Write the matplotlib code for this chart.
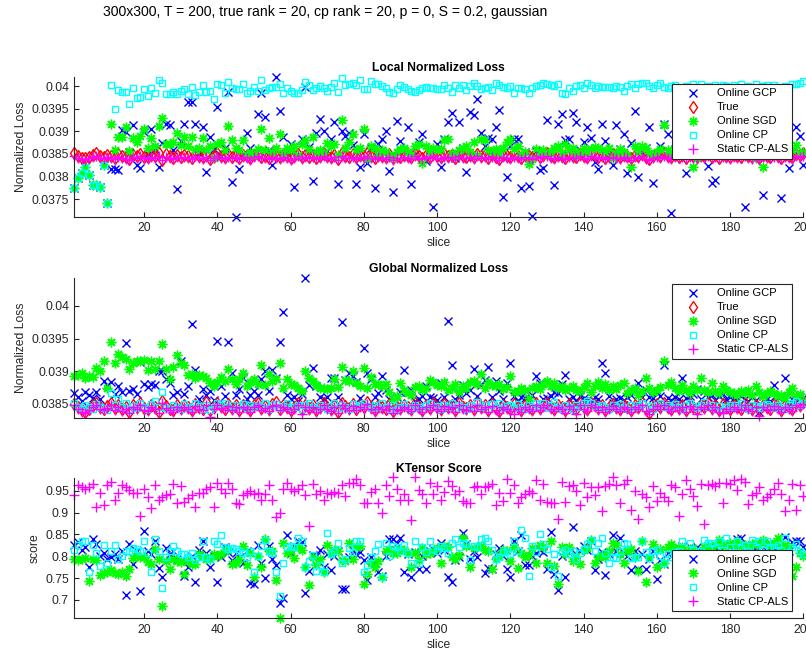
import numpy as np
import matplotlib
matplotlib.use('Agg')
import matplotlib.pyplot as plt

plt.rcParams['font.family'] = ['Liberation Sans', 'DejaVu Sans']

slices = np.arange(1, 201)

# loss values are stored in units of 1e-5, scores in units of 1e-3
gcp_local = [
    3774, 3796, 3807, 3820, 3803, 3781, 3781, 3777, 3825, 3742,
    3817, 3816, 3814, 3904, 3898, 3855, 3914, 3826, 3819, 3898,
    3850, 3906, 3860, 3822, 3875, 3917, 3913, 3858, 3773, 3879,
    3917, 3964, 3964, 3917, 3852, 3910, 3811, 3888, 3860, 3953,
    3845, 3862, 3987, 3788, 3711, 3816, 3850, 3897, 3864, 3848,
    3938, 3985, 3931, 3858, 3825, 4021, 3945, 3887, 3852, 3873,
    3776, 3846, 3883, 3999, 3866, 3789, 3897, 3928, 3900, 3856,
    3882, 3921, 3783, 3900, 3889, 3897, 3870, 3783, 3822, 3893,
    3830, 3862, 3775, 3873, 3884, 3901, 3813, 3765, 3923, 3879,
    3857, 3910, 3783, 3850, 3876, 3894, 3835, 3858, 3733, 3872,
    3820, 3882, 3920, 3940, 3840, 3920, 3864, 3811, 3943, 3937,
    3971, 3897, 3867, 3886, 3884, 3910, 3948, 3754, 3798, 3867,
    3884, 3884, 3774, 3855, 3779, 3713, 3857, 3814, 3818, 3925,
    3852, 3781, 3917, 3938, 3881, 3882, 3941, 3920, 3858, 3876,
    3910, 3885, 3833, 3816, 3916, 3878, 3850, 3826, 3913, 3860,
    3894, 3808, 3875, 3945, 3798, 3855, 3862, 3909, 3785, 3850,
    3868, 3916, 3895, 3719, 3860, 3845, 3880, 3808, 3900, 3852,
    3870, 3930, 3866, 3823, 3785, 3792, 3910, 3858, 3880, 3850,
    3905, 3870, 3848, 3733, 3890, 3862, 3920, 3855, 3760, 3880,
    3846, 3900, 3868, 3752, 3875, 3818, 3858, 3909, 3889, 3826]
true_local = [
    3852, 3845, 3842, 3840, 3844, 3847, 3852, 3846, 3843, 3848,
    3845, 3842, 3849, 3846, 3843, 3838, 3848, 3845, 3850, 3844,
    3843, 3848, 3846, 3851, 3836, 3849, 3845, 3842, 3847, 3844,
    3848, 3845, 3842, 3850, 3846, 3843, 3847, 3839, 3845, 3851,
    3846, 3843, 3849, 3844, 3847, 3842, 3848, 3845, 3841, 3847,
    3850, 3844, 3846, 3842, 3849, 3845, 3843, 3848, 3846, 3841,
    3845, 3850, 3843, 3847, 3844, 3848, 3842, 3846, 3850, 3845,
    3843, 3848, 3838, 3852, 3846, 3844, 3849, 3843, 3847, 3845,
    3852, 3846, 3842, 3848, 3845, 3843, 3849, 3840, 3846, 3844,
    3848, 3845, 3843, 3850, 3846, 3842, 3848, 3844, 3851, 3846,
    3843, 3849, 3845, 3847, 3842, 3852, 3846, 3844, 3848, 3843,
    3850, 3845, 3847, 3842, 3849, 3844, 3838, 3848, 3846, 3843,
    3849, 3845, 3842, 3848, 3846, 3843, 3850, 3844, 3847, 3852,
    3845, 3843, 3848, 3846, 3842, 3849, 3845, 3844, 3850, 3846,
    3843, 3851, 3847, 3844, 3848, 3842, 3846, 3849, 3845, 3843,
    3848, 3846, 3841, 3847, 3845, 3850, 3843, 3838, 3846, 3849,
    3845, 3852, 3846, 3843, 3848, 3844, 3847, 3842, 3849, 3845,
    3843, 3848, 3846, 3850, 3844, 3847, 3842, 3849, 3845, 3843,
    3848, 3846, 3844, 3850, 3845, 3843, 3847, 3841, 3848, 3846,
    3844, 3849, 3845, 3842, 3848, 3846, 3843, 3850, 3847, 3852]
sgd_local = [
    3774, 3796, 3807, 3820, 3803, 3781, 3781, 3777, 3825, 3742,
    3917, 3858, 3888, 3888, 3910, 3857, 3885, 3877, 3890, 3905,
    3862, 3885, 3868, 3912, 3930, 3872, 3872, 3876, 3897, 3870,
    3888, 3868, 3888, 3858, 3862, 3886, 3858, 3868, 3842, 3872,
    3876, 3858, 3912, 3880, 3862, 3858, 3880, 3848, 3855, 3848,
    3860, 3905, 3858, 3886, 3855, 3862, 3895, 3852, 3862, 3858,
    3868, 3848, 3872, 3880, 3860, 3888, 3855, 3858, 3852, 3875,
    3868, 3872, 3848, 3925, 3862, 3876, 3895, 3858, 3862, 3905,
    3840, 3868, 3862, 3848, 3858, 3855, 3848, 3840, 3855, 3860,
    3862, 3855, 3848, 3867, 3872, 3829, 3868, 3855, 3862, 3858,
    3860, 3880, 3882, 3852, 3845, 3858, 3862, 3868, 3855, 3877,
    3848, 3882, 3880, 3858, 3855, 3860, 3852, 3862, 3876, 3882,
    3860, 3868, 3848, 3855, 3827, 3838, 3860, 3852, 3858, 3848,
    3855, 3862, 3868, 3852, 3872, 3858, 3862, 3848, 3855, 3862,
    3852, 3860, 3865, 3862, 3858, 3855, 3862, 3840, 3852, 3860,
    3855, 3848, 3822, 3868, 3855, 3867, 3862, 3852, 3848, 3855,
    3860, 3914, 3858, 3848, 3862, 3855, 3858, 3852, 3860, 3822,
    3840, 3858, 3855, 3852, 3860, 3848, 3862, 3855, 3850, 3858,
    3852, 3862, 3848, 3855, 3858, 3852, 3840, 3855, 3822, 3858,
    3862, 3855, 3848, 3860, 3852, 3855, 3858, 3870, 3852, 3855]
cp_local = [
    3774, 3796, 3807, 3820, 3803, 3781, 3781, 3777, 3825, 3742,
    4002, 3949, 3991, 3987, 3988, 3961, 3995, 3973, 3976, 3993,
    3979, 3997, 3985, 4013, 4008, 3982, 3982, 3988, 3982, 3989,
    3993, 3982, 3998, 3980, 3987, 4003, 3986, 3990, 3971, 4004,
    4003, 3984, 4010, 3997, 3993, 3994, 4004, 3984, 3990, 3998,
    3989, 4013, 3992, 3996, 3998, 3998, 4004, 3985, 3997, 3989,
    3984, 3984, 3992, 4010, 4003, 3991, 3995, 4000, 3995, 3990,
    3999, 4006, 3988, 4019, 4002, 4004, 4008, 4002, 4013, 3993,
    3993, 4012, 4004, 4004, 4000, 3997, 3988, 3985, 3993, 4002,
    3999, 3993, 3990, 3988, 3991, 3997, 3999, 3995, 3995, 3993,
    3993, 4002, 3997, 3988, 4002, 3995, 4002, 3991, 4000, 4007,
    4000, 3993, 3997, 3999, 3991, 4007, 4002, 3999, 3995, 4000,
    3984, 3995, 3997, 3993, 3985, 3995, 4000, 4002, 4007, 4004,
    4002, 4000, 4004, 3985, 3982, 3995, 3990, 4000, 4002, 3995,
    4006, 4002, 3997, 4000, 3999, 3999, 3999, 3997, 4000, 3999,
    3990, 4000, 4004, 3997, 4004, 4006, 4007, 4000, 3997, 4002,
    4006, 3998, 3995, 4000, 4003, 3996, 3994, 4001, 3998, 4004,
    3999, 4005, 3997, 4001, 3995, 4003, 3998, 4002, 4000, 3996,
    4003, 3999, 4005, 3997, 4001, 3998, 4004, 3995, 4000, 4002,
    3997, 4003, 3999, 3994, 4001, 3996, 4004, 4004, 4007, 4012]
als_local = [
    3846, 3840, 3838, 3836, 3841, 3843, 3846, 3841, 3839, 3844,
    3841, 3838, 3844, 3842, 3839, 3836, 3843, 3841, 3845, 3840,
    3839, 3844, 3842, 3846, 3836, 3843, 3841, 3838, 3843, 3840,
    3844, 3841, 3838, 3845, 3842, 3839, 3843, 3836, 3841, 3846,
    3842, 3839, 3844, 3840, 3843, 3838, 3844, 3841, 3837, 3843,
    3845, 3840, 3842, 3838, 3844, 3841, 3839, 3844, 3842, 3837,
    3841, 3845, 3839, 3843, 3840, 3844, 3838, 3842, 3845, 3841,
    3839, 3844, 3836, 3846, 3842, 3840, 3844, 3839, 3843, 3841,
    3846, 3842, 3838, 3844, 3841, 3839, 3844, 3836, 3842, 3840,
    3844, 3841, 3839, 3845, 3842, 3838, 3844, 3840, 3846, 3842,
    3839, 3844, 3841, 3843, 3838, 3846, 3842, 3840, 3844, 3839,
    3845, 3841, 3843, 3838, 3844, 3840, 3836, 3844, 3842, 3839,
    3844, 3841, 3838, 3844, 3842, 3839, 3845, 3840, 3843, 3846,
    3841, 3839, 3844, 3842, 3838, 3844, 3841, 3840, 3845, 3842,
    3839, 3846, 3843, 3840, 3844, 3838, 3842, 3844, 3841, 3839,
    3844, 3842, 3837, 3843, 3841, 3845, 3839, 3836, 3842, 3844,
    3841, 3846, 3842, 3839, 3844, 3840, 3843, 3838, 3844, 3841,
    3839, 3844, 3842, 3845, 3840, 3843, 3838, 3844, 3841, 3839,
    3844, 3842, 3840, 3845, 3841, 3839, 3843, 3837, 3844, 3842,
    3840, 3844, 3841, 3838, 3844, 3842, 3839, 3845, 3843, 3846]

gcp_global = [
    3866, 3861, 3854, 3868, 3863, 3859, 3869, 3858, 3885, 3879,
    3884, 3865, 3877, 3868, 3943, 3870, 3873, 3865, 3914, 3880,
    3876, 3881, 3879, 3900, 3901, 3888, 3882, 3863, 3869, 3916,
    3865, 3877, 3972, 3902, 3858, 3873, 3864, 3870, 3856, 3946,
    3877, 3862, 3944, 3897, 3864, 3873, 3889, 3858, 3864, 3870,
    3863, 3888, 3900, 3870, 3902, 3890, 3945, 3991, 3864, 3858,
    3861, 3855, 3865, 4043, 3879, 3905, 3878, 3860, 3858, 3860,
    3890, 3890, 3861, 3976, 3887, 3897, 3893, 3884, 3859, 3936,
    3897, 3888, 3860, 3866, 3893, 3871, 3858, 3856, 3860, 3868,
    3902, 3869, 3871, 3854, 3858, 3862, 3878, 3861, 3859, 3856,
    3882, 3860, 3977, 3910, 3858, 3864, 3879, 3866, 3871, 3904,
    3862, 3879, 3887, 3906, 3860, 3885, 3870, 3857, 3882, 3912,
    3862, 3854, 3860, 3859, 3856, 3863, 3892, 3882, 3858, 3859,
    3862, 3869, 3866, 3880, 3895, 3858, 3860, 3854, 3862, 3859,
    3856, 3854, 3860, 3858, 3913, 3897, 3862, 3851, 3858, 3859,
    3856, 3860, 3863, 3873, 3882, 3861, 3871, 3860, 3859, 3868,
    3862, 3909, 3859, 3856, 3860, 3858, 3889, 3859, 3862, 3865,
    3873, 3858, 3870, 3860, 3864, 3856, 3862, 3865, 3858, 3860,
    3859, 3856, 3862, 3858, 3854, 3860, 3856, 3838, 3862, 3858,
    3854, 3879, 3860, 3862, 3890, 3848, 3858, 3854, 3860, 3859]
true_global = [
    3850, 3846, 3840, 3838, 3843, 3848, 3852, 3845, 3842, 3847,
    3852, 3844, 3848, 3842, 3846, 3838, 3849, 3845, 3851, 3844,
    3842, 3849, 3846, 3838, 3855, 3847, 3843, 3840, 3848, 3844,
    3849, 3845, 3841, 3850, 3846, 3843, 3853, 3840, 3845, 3851,
    3847, 3843, 3850, 3844, 3848, 3841, 3849, 3845, 3840, 3848,
    3851, 3844, 3847, 3842, 3850, 3853, 3843, 3849, 3846, 3840,
    3845, 3851, 3843, 3848, 3844, 3849, 3841, 3846, 3851, 3845,
    3842, 3849, 3838, 3852, 3847, 3844, 3850, 3843, 3848, 3845,
    3853, 3846, 3841, 3849, 3845, 3843, 3850, 3839, 3846, 3844,
    3849, 3845, 3842, 3851, 3846, 3841, 3848, 3844, 3852, 3846,
    3842, 3850, 3845, 3848, 3841, 3852, 3846, 3844, 3849, 3842,
    3851, 3845, 3848, 3841, 3850, 3844, 3839, 3849, 3846, 3842,
    3850, 3845, 3841, 3849, 3846, 3842, 3851, 3844, 3848, 3852,
    3845, 3842, 3849, 3846, 3841, 3850, 3845, 3843, 3851, 3846,
    3842, 3852, 3848, 3844, 3849, 3841, 3846, 3850, 3845, 3842,
    3849, 3846, 3840, 3848, 3845, 3851, 3842, 3836, 3846, 3850,
    3845, 3852, 3846, 3842, 3849, 3844, 3848, 3841, 3850, 3845,
    3842, 3849, 3846, 3851, 3844, 3848, 3841, 3850, 3845, 3842,
    3849, 3846, 3843, 3851, 3845, 3842, 3848, 3840, 3849, 3846,
    3843, 3850, 3845, 3841, 3849, 3846, 3842, 3851, 3848, 3853]
sgd_global = [
    3893, 3895, 3898, 3889, 3892, 3891, 3905, 3900, 3916, 3875,
    3944, 3912, 3926, 3922, 3919, 3903, 3912, 3916, 3916, 3917,
    3902, 3916, 3903, 3916, 3941, 3904, 3888, 3907, 3925, 3912,
    3909, 3894, 3896, 3889, 3895, 3892, 3889, 3882, 3878, 3884,
    3891, 3885, 3903, 3888, 3881, 3888, 3898, 3877, 3884, 3888,
    3880, 3909, 3879, 3896, 3885, 3888, 3913, 3875, 3888, 3881,
    3879, 3874, 3870, 3900, 3890, 3885, 3879, 3875, 3875, 3873,
    3875, 3888, 3876, 3907, 3887, 3885, 3900, 3882, 3877, 3905,
    3875, 3891, 3880, 3880, 3878, 3881, 3869, 3856, 3862, 3882,
    3871, 3867, 3864, 3876, 3878, 3872, 3875, 3887, 3884, 3879,
    3878, 3883, 3872, 3875, 3880, 3869, 3877, 3874, 3883, 3885,
    3880, 3896, 3874, 3884, 3879, 3878, 3880, 3873, 3876, 3892,
    3869, 3870, 3875, 3871, 3859, 3874, 3877, 3873, 3880, 3885,
    3877, 3882, 3874, 3878, 3871, 3874, 3877, 3872, 3870, 3876,
    3882, 3868, 3877, 3884, 3874, 3880, 3871, 3877, 3873, 3879,
    3882, 3866, 3871, 3875, 3864, 3870, 3889, 3874, 3869, 3872,
    3876, 3915, 3879, 3884, 3874, 3870, 3879, 3871, 3866, 3877,
    3872, 3890, 3871, 3868, 3882, 3870, 3866, 3878, 3872, 3869,
    3866, 3864, 3870, 3866, 3872, 3864, 3878, 3868, 3862, 3866,
    3870, 3866, 3862, 3864, 3859, 3868, 3875, 3862, 3865, 3854]
cp_global = [
    3851, 3845, 3842, 3848, 3845, 3843, 3850, 3846, 3844, 3840,
    3866, 3848, 3858, 3845, 3851, 3842, 3847, 3844, 3852, 3845,
    3843, 3850, 3855, 3846, 3869, 3844, 3842, 3848, 3845, 3843,
    3850, 3846, 3844, 3852, 3847, 3843, 3849, 3840, 3846, 3852,
    3848, 3851, 3845, 3849, 3843, 3847, 3850, 3844, 3848, 3846,
    3849, 3845, 3852, 3843, 3848, 3850, 3844, 3847, 3851, 3845,
    3846, 3849, 3843, 3848, 3852, 3845, 3843, 3849, 3846, 3843,
    3847, 3851, 3844, 3849, 3846, 3843, 3850, 3845, 3848, 3852,
    3847, 3844, 3849, 3845, 3852, 3846, 3843, 3848, 3842, 3846,
    3850, 3846, 3843, 3849, 3845, 3842, 3848, 3852, 3845, 3847,
    3843, 3849, 3846, 3851, 3844, 3848, 3845, 3842, 3849, 3846,
    3853, 3845, 3848, 3843, 3850, 3846, 3852, 3844, 3847, 3849,
    3844, 3850, 3846, 3843, 3848, 3845, 3852, 3847, 3851, 3844,
    3848, 3853, 3846, 3843, 3849, 3845, 3842, 3848, 3846, 3851,
    3854, 3852, 3847, 3844, 3849, 3846, 3843, 3848, 3845, 3850,
    3846, 3843, 3849, 3845, 3848, 3851, 3844, 3847, 3843, 3849,
    3852, 3846, 3848, 3845, 3850, 3846, 3843, 3849, 3852, 3847,
    3844, 3849, 3853, 3846, 3848, 3843, 3847, 3841, 3846, 3849,
    3845, 3848, 3851, 3846, 3843, 3849, 3847, 3844, 3849, 3850,
    3847, 3844, 3849, 3846, 3843, 3848, 3851, 3854, 3849, 3852]
als_global = [
    3848, 3843, 3838, 3836, 3841, 3845, 3849, 3842, 3840, 3844,
    3848, 3841, 3845, 3839, 3843, 3836, 3846, 3842, 3848, 3841,
    3839, 3846, 3843, 3836, 3851, 3844, 3840, 3837, 3845, 3841,
    3846, 3842, 3838, 3847, 3843, 3840, 3849, 3830, 3842, 3848,
    3844, 3840, 3847, 3841, 3845, 3838, 3846, 3842, 3837, 3845,
    3848, 3841, 3844, 3839, 3847, 3849, 3840, 3846, 3843, 3837,
    3842, 3848, 3834, 3845, 3841, 3846, 3838, 3843, 3848, 3842,
    3839, 3846, 3836, 3849, 3844, 3841, 3847, 3840, 3845, 3842,
    3850, 3843, 3838, 3846, 3842, 3840, 3847, 3836, 3843, 3841,
    3846, 3842, 3839, 3848, 3843, 3838, 3845, 3841, 3849, 3843,
    3839, 3847, 3842, 3845, 3838, 3849, 3843, 3841, 3846, 3839,
    3848, 3842, 3845, 3838, 3847, 3841, 3836, 3846, 3843, 3839,
    3835, 3842, 3838, 3846, 3843, 3839, 3848, 3841, 3845, 3849,
    3842, 3839, 3846, 3843, 3836, 3847, 3842, 3834, 3848, 3843,
    3839, 3849, 3845, 3841, 3846, 3838, 3843, 3847, 3842, 3839,
    3846, 3843, 3837, 3845, 3842, 3848, 3839, 3835, 3843, 3847,
    3842, 3849, 3843, 3839, 3846, 3841, 3845, 3838, 3847, 3842,
    3835, 3846, 3843, 3848, 3841, 3845, 3838, 3836, 3842, 3839,
    3846, 3843, 3840, 3848, 3842, 3839, 3845, 3831, 3846, 3843,
    3840, 3847, 3842, 3838, 3846, 3843, 3839, 3848, 3845, 3850]

gcp_score = [
    826, 833, 815, 821, 775, 839, 828, 800, 807, 793,
    798, 805, 793, 813, 711, 828, 782, 813, 720, 859,
    812, 805, 836, 773, 753, 818, 806, 811, 793, 790,
    755, 776, 800, 740, 815, 836, 808, 776, 800, 740,
    798, 822, 810, 792, 808, 799, 785, 813, 738, 737,
    825, 784, 750, 824, 793, 780, 692, 704, 849, 808,
    824, 836, 833, 717, 767, 802, 801, 814, 776, 805,
    769, 800, 812, 726, 726, 798, 814, 805, 810, 792,
    746, 799, 785, 765, 755, 801, 839, 839, 831, 841,
    763, 805, 753, 810, 770, 800, 770, 812, 816, 808,
    831, 815, 753, 740, 792, 798, 854, 828, 793, 812,
    798, 824, 761, 773, 770, 805, 818, 800, 770, 752,
    836, 812, 849, 780, 780, 801, 807, 815, 810, 770,
    856, 760, 722, 800, 753, 810, 866, 805, 812, 824,
    815, 836, 769, 793, 810, 757, 805, 849, 812, 841,
    808, 800, 769, 812, 770, 805, 770, 793, 812, 747,
    792, 782, 807, 800, 814, 805, 824, 810, 821, 800,
    821, 805, 800, 812, 814, 822, 810, 824, 805, 824,
    812, 839, 841, 826, 810, 826, 812, 826, 830, 812,
    828, 815, 822, 805, 845, 812, 833, 835, 836, 821]
sgd_score = [
    793, 792, 793, 795, 744, 793, 792, 757, 761, 765,
    769, 761, 760, 765, 755, 772, 795, 801, 798, 798,
    788, 782, 816, 793, 686, 790, 770, 793, 790, 788,
    760, 790, 782, 782, 805, 801, 793, 793, 805, 801,
    805, 814, 814, 782, 785, 793, 824, 780, 808, 752,
    801, 776, 839, 813, 813, 746, 658, 831, 808, 814,
    795, 821, 814, 776, 734, 798, 780, 793, 763, 826,
    808, 814, 811, 792, 790, 831, 793, 821, 824, 737,
    760, 785, 776, 790, 752, 811, 816, 808, 807, 816,
    814, 808, 775, 808, 792, 818, 805, 808, 811, 818,
    785, 824, 822, 798, 793, 803, 843, 824, 775, 818,
    822, 824, 814, 813, 770, 793, 801, 814, 811, 790,
    821, 773, 807, 798, 803, 818, 785, 826, 821, 785,
    836, 778, 737, 821, 805, 821, 790, 800, 782, 815,
    818, 837, 785, 798, 803, 798, 811, 831, 826, 805,
    785, 813, 816, 798, 767, 836, 740, 798, 828, 776,
    816, 785, 821, 828, 818, 818, 822, 785, 816, 818,
    807, 798, 822, 824, 811, 826, 837, 824, 826, 830,
    821, 834, 824, 826, 821, 828, 831, 826, 837, 828,
    824, 831, 841, 821, 826, 822, 755, 776, 808, 800]
cp_score = [
    814, 826, 836, 834, 763, 826, 808, 778, 826, 785,
    811, 826, 793, 801, 811, 811, 818, 816, 813, 834,
    807, 763, 839, 811, 727, 798, 813, 824, 813, 805,
    805, 798, 807, 792, 798, 834, 798, 793, 834, 828,
    849, 821, 816, 818, 816, 813, 808, 799, 813, 763,
    801, 824, 837, 813, 808, 765, 709, 785, 822, 824,
    821, 841, 836, 776, 790, 803, 767, 780, 765, 854,
    805, 812, 831, 785, 793, 818, 810, 836, 836, 765,
    780, 798, 813, 828, 753, 831, 801, 824, 821, 812,
    826, 808, 785, 836, 785, 821, 810, 834, 816, 811,
    824, 818, 808, 831, 839, 821, 830, 828, 792, 824,
    821, 839, 843, 836, 815, 793, 798, 810, 813, 805,
    836, 812, 860, 843, 755, 824, 810, 851, 828, 816,
    775, 805, 755, 810, 814, 805, 813, 793, 808, 816,
    828, 837, 813, 831, 843, 807, 785, 798, 795, 813,
    831, 828, 795, 798, 798, 834, 810, 795, 811, 814,
    800, 785, 805, 798, 810, 812, 834, 805, 831, 815,
    808, 812, 837, 831, 830, 820, 836, 815, 841, 822,
    810, 836, 818, 825, 812, 837, 820, 834, 815, 834,
    818, 822, 826, 815, 841, 810, 821, 828, 812, 805]
als_score = [
    940, 963, 959, 955, 958, 965, 914, 946, 917, 963,
    971, 929, 946, 963, 958, 952, 946, 944, 892, 953,
    936, 910, 963, 929, 936, 940, 942, 965, 921, 961,
    925, 933, 940, 912, 944, 946, 955, 958, 912, 968,
    953, 944, 967, 955, 923, 920, 940, 944, 950, 942,
    944, 930, 942, 963, 930, 891, 900, 955, 967, 955,
    950, 953, 963, 940, 869, 965, 942, 950, 930, 946,
    942, 948, 946, 963, 938, 967, 968, 978, 963, 923,
    923, 948, 955, 923, 898, 963, 938, 982, 955, 930,
    942, 930, 883, 982, 952, 942, 921, 968, 942, 961,
    930, 948, 973, 961, 942, 950, 927, 923, 921, 958,
    961, 942, 958, 961, 965, 917, 946, 927, 976, 946,
    963, 921, 936, 942, 950, 946, 974, 929, 965, 925,
    921, 923, 885, 971, 925, 961, 963, 950, 917, 968,
    936, 958, 940, 959, 904, 961, 965, 981, 963, 923,
    965, 974, 907, 950, 885, 942, 935, 913, 961, 927,
    944, 935, 927, 963, 958, 892, 942, 974, 953, 938,
    915, 965, 874, 963, 965, 961, 968, 921, 968, 965,
    974, 952, 976, 971, 920, 940, 946, 958, 929, 936,
    942, 953, 968, 942, 904, 930, 965, 907, 963, 938]

styles = {
    'Online GCP': dict(color=(0, 0, 1), marker='x', ms=5.5),
    'True': dict(color=(1, 0, 0), marker='d', ms=6.5, mfc='none'),
    'Online SGD': dict(color=(0, 1, 0), marker=(8, 2, 0), ms=7),
    'Online CP': dict(color=(0, 1, 1), marker='s', ms=5, mfc='none'),
    'Static CP-ALS': dict(color=(1, 0, 1), marker='+', ms=7),
}

gray = '#262626'
fig = plt.figure(figsize=(8.06, 6.56), dpi=100)
fig.text(103 / 806, 1 - 12 / 656, '300x300, T = 200, true rank = 20, cp rank = 20, p = 0, S = 0.2, gaussian',
         fontsize=10.1, ha='left', va='center', color='black')


def panel(rect, series, scale, title, ylabel, ylim, yticks, yticklabels, leg_loc, leg_anchor):
    ax = fig.add_axes(rect)
    for name, vals in series:
        ax.plot(slices, np.array(vals) * scale, linestyle='none', mew=1.0,
                label=name, clip_on=False, **styles[name])
    ax.set_xlim(1, 200)
    ax.set_ylim(*ylim)
    ax.set_xticks(range(20, 201, 20))
    ax.set_yticks(yticks)
    ax.set_yticklabels(yticklabels)
    ax.spines['top'].set_visible(False)
    ax.spines['right'].set_visible(False)
    for s in ('left', 'bottom'):
        ax.spines[s].set_color(gray)
        ax.spines[s].set_linewidth(0.8)
    ax.tick_params(direction='in', length=3.5, width=0.8, colors=gray, labelsize=8.7, pad=4)
    ax.set_title(title, fontsize=8.7, fontweight='bold', pad=4)
    ax.set_xlabel('slice', fontsize=8.7, color=gray, labelpad=2)
    ax.set_ylabel(ylabel, fontsize=8.7, color=gray, labelpad=3)
    leg = ax.legend(loc=leg_loc, bbox_to_anchor=leg_anchor, fontsize=8, frameon=True,
                    fancybox=False, framealpha=1, edgecolor=gray, borderpad=0.4,
                    handlelength=3, handletextpad=0.6, labelspacing=0.36, borderaxespad=0)
    leg.get_frame().set_linewidth(0.8)
    leg.set_zorder(5)
    return ax


loss_ticks = [0.0375, 0.038, 0.0385, 0.039, 0.0395, 0.04]
loss_labels = ['0.0375', '0.038', '0.0385', '0.039', '0.0395', '0.04']

panel([0.0924, 0.6697, 0.9042, 0.2134],
      [('Online GCP', gcp_local), ('True', true_local), ('Online SGD', sgd_local),
       ('Online CP', cp_local), ('Static CP-ALS', als_local)],
      1e-5, 'Local Normalized Loss', 'Normalized Loss', (0.03711, 0.04021),
      loss_ticks, loss_labels, 'upper right', (0.985, 0.948))

panel([0.0924, 0.3633, 0.9042, 0.2134],
      [('Online GCP', gcp_global), ('True', true_global), ('Online SGD', sgd_global),
       ('Online CP', cp_global), ('Static CP-ALS', als_global)],
      1e-5, 'Global Normalized Loss', 'Normalized Loss', (0.03829, 0.04043),
      loss_ticks[2:], loss_labels[2:], 'upper right', (0.985, 0.955))

panel([0.0924, 0.0575, 0.9042, 0.2143],
      [('Online GCP', gcp_score), ('Online SGD', sgd_score),
       ('Online CP', cp_score), ('Static CP-ALS', als_score)],
      1e-3, 'KTensor Score', 'score', (0.658, 0.98),
      [0.7, 0.75, 0.8, 0.85, 0.9, 0.95], ['0.7', '0.75', '0.8', '0.85', '0.9', '0.95'],
      'lower right', (0.985, 0.052))

fig.savefig('out.png', dpi=100)
